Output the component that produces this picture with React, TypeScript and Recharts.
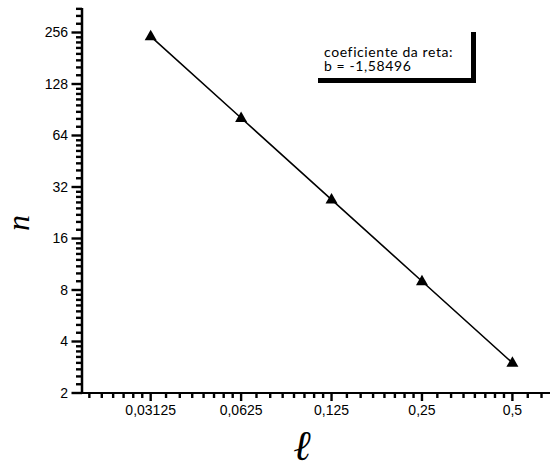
import React from 'react';
import { LineChart, Line, XAxis, YAxis } from 'recharts';

// ---- data ----
const lengths = [0.03125, 0.0625, 0.125, 0.25, 0.5];
const counts = [243, 81, 27, 9, 3];

const xTickValues = [0.03125, 0.0625, 0.125, 0.25, 0.5];
const xTickLabels = ['0,03125', '0,0625', '0,125', '0,25', '0,5'];
const yTickValues = [2, 4, 8, 16, 32, 64, 128, 256];
const yTickLabels = ['2', '4', '8', '16', '32', '64', '128', '256'];

const xDomain: [number, number] = [0.01846, 0.667];
const yDomain: [number, number] = [2, 356];

const boxTitle = 'coeficiente da reta:';
const boxValue = 'b = -1,58496';

// minor ticks: linear subdivisions (1/8) inside each octave
const minorTicks = (bases: number[], lo: number, hi: number) => {
  const out: number[] = [];
  bases.forEach((b) => {
    for (let k = 1; k < 8; k++) {
      const v = b * (1 + k / 8);
      if (v > lo && v < hi) out.push(v);
    }
  });
  return out;
};
const xAllTicks = [
  ...xTickValues,
  ...minorTicks([0.0078125, 0.015625, 0.03125, 0.0625, 0.125, 0.25, 0.5], xDomain[0], xDomain[1]),
].sort((a, b) => a - b);
const yAllTicks = [
  ...yTickValues,
  ...minorTicks([1, 2, 4, 8, 16, 32, 64, 128, 256], yDomain[0], yDomain[1]),
].sort((a, b) => a - b);

const data = lengths.map((l, i) => ({ l, n: counts[i] }));

const X_TICK_SIZE = 3.5;
const X_TICK_MARGIN = 9.5;
const Y_TICK_SIZE = 5;
const Y_TICK_MARGIN = 9;
const tickFont = { fontFamily: '"Liberation Sans", Arial, sans-serif', fontSize: 14, fill: '#000' };

const renderXTick = (props: any) => {
  const { x, y, payload } = props;
  const idx = xTickValues.indexOf(payload.value);
  const axisY = Number(y) - X_TICK_SIZE - X_TICK_MARGIN;
  const len = idx >= 0 ? 8 : 5;
  return (
    <g>
      <rect x={Number(x) - 1.2} y={axisY} width={2.4} height={len} fill="#000" />
      {idx >= 0 && (
        <text x={x} y={axisY + 17} dy="0.35em" textAnchor="middle" {...tickFont}>
          {xTickLabels[idx]}
        </text>
      )}
    </g>
  );
};

const renderYTick = (props: any) => {
  const { x, y, payload } = props;
  const idx = yTickValues.indexOf(payload.value);
  const axisX = Number(x) + Y_TICK_SIZE + Y_TICK_MARGIN;
  const len = idx >= 0 ? 10.5 : 6;
  return (
    <g>
      <rect x={axisX - len} y={Number(y) - 1.2} width={len} height={2.4} fill="#000" />
      {idx >= 0 && (
        <text x={axisX - 14} y={y} dy="0.35em" textAnchor="end" {...tickFont}>
          {yTickLabels[idx]}
        </text>
      )}
    </g>
  );
};

const TriangleDot = (props: any) => {
  const { cx, cy } = props;
  if (cx == null || cy == null) return <g />;
  return <polygon points={`${cx},${cy - 6.5} ${cx - 6},${cy + 4} ${cx + 6},${cy + 4}`} fill="#000" />;
};

export default function App() {
  return (
    <div style={{ position: 'absolute', left: 0, top: 0, width: 550, height: 469, background: '#fff' }}>
      <LineChart width={550} height={469} data={data} margin={{ top: 8, right: 0, bottom: 0, left: 0 }}>
        <XAxis
          xAxisId="top"
          orientation="top"
          dataKey="l"
          type="number"
          scale="log"
          domain={xDomain}
          allowDataOverflow
          height={0}
          tick={false}
          tickLine={false}
          axisLine={{ stroke: '#000', strokeWidth: 2.5 }}
        />
        <XAxis
          xAxisId="main"
          dataKey="l"
          type="number"
          scale="log"
          domain={xDomain}
          allowDataOverflow
          ticks={xAllTicks}
          interval={0}
          height={76}
          tickSize={X_TICK_SIZE}
          tickMargin={X_TICK_MARGIN}
          tickLine={false}
          tick={renderXTick}
          axisLine={{ stroke: '#000', strokeWidth: 2.2 }}
          label={{
            content: () => (
              <text
                x={302}
                y={460}
                textAnchor="middle"
                fontFamily='"DejaVu Serif", serif'
                fontStyle="italic"
                fontSize={42}
                fill="#000"
              >
                ℓ
              </text>
            ),
          }}
        />
        <YAxis
          dataKey="n"
          type="number"
          scale="log"
          domain={yDomain}
          allowDataOverflow
          ticks={yAllTicks}
          interval={0}
          width={82}
          tickSize={Y_TICK_SIZE}
          tickMargin={Y_TICK_MARGIN}
          tickLine={false}
          tick={renderYTick}
          axisLine={{ stroke: '#000', strokeWidth: 2.5 }}
          label={{
            content: () => (
              <text
                x={18}
                y={223}
                textAnchor="middle"
                dominantBaseline="central"
                transform="rotate(-90 18 223)"
                fontFamily='"Liberation Serif", "Times New Roman", serif'
                fontStyle="italic"
                fontSize={32}
                fill="#000"
              >
                n
              </text>
            ),
          }}
        />
        <Line
          xAxisId="main"
          dataKey="n"
          stroke="#000"
          strokeWidth={1.6}
          dot={(p: any) => <TriangleDot key={p.index} {...p} />}
          activeDot={false}
          isAnimationActive={false}
        />
      </LineChart>
      <div
        style={{
          position: 'absolute',
          left: 313,
          top: 27,
          width: 158,
          height: 51,
          background: '#fff',
          boxShadow: '5px 5px 0 #000',
          boxSizing: 'border-box',
          padding: '18px 0 0 11px',
          fontFamily: 'Lato, "Open Sans", sans-serif',
          fontSize: 14,
          letterSpacing: 0.6,
          lineHeight: '13.5px',
          color: '#000',
          whiteSpace: 'nowrap',
        }}
      >
        <div>{boxTitle}</div>
        <div>{boxValue}</div>
      </div>
    </div>
  );
}
